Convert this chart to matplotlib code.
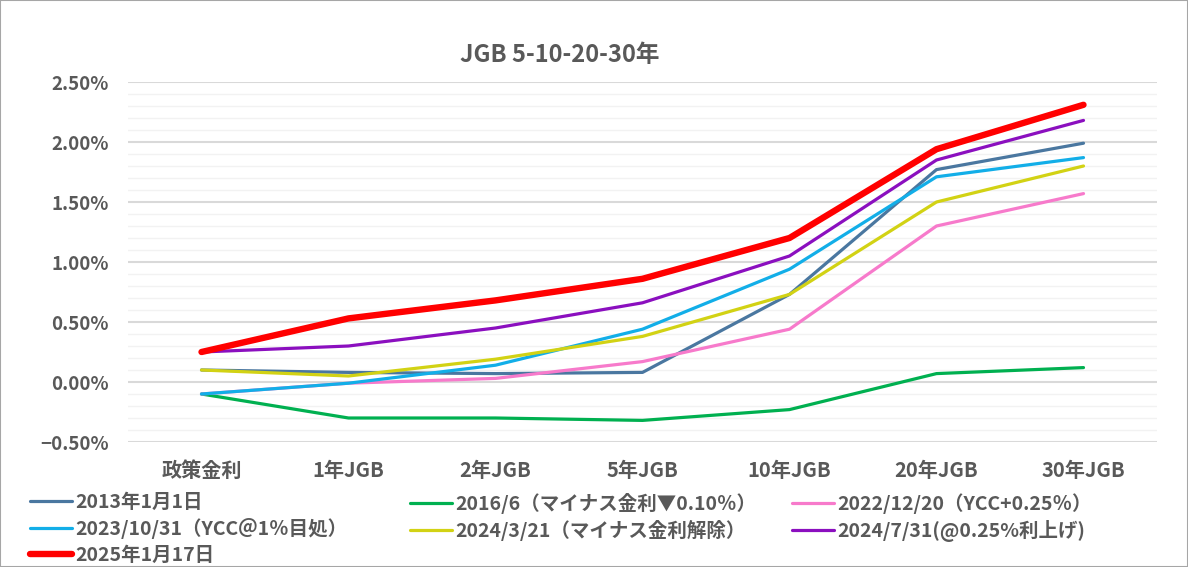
import matplotlib.pyplot as plt
from matplotlib.patches import Rectangle
from matplotlib.ticker import MultipleLocator, PercentFormatter

plt.rcParams['font.family'] = ['Noto Sans CJK JP', 'DejaVu Sans']

# 年限
categories = ['政策金利', '1年JGB', '2年JGB', '5年JGB', '10年JGB', '20年JGB', '30年JGB']

# 各時点の利回り (%)
y2013 = [0.10, 0.08, 0.07, 0.08, 0.73, 1.77, 1.99]
y2016 = [-0.10, -0.30, -0.30, -0.32, -0.23, 0.07, 0.12]
y2022 = [-0.10, -0.01, 0.03, 0.17, 0.44, 1.30, 1.57]
y2023 = [-0.10, -0.01, 0.14, 0.44, 0.94, 1.71, 1.87]
y2024a = [0.10, 0.05, 0.19, 0.38, 0.73, 1.50, 1.80]
y2024b = [0.25, 0.30, 0.45, 0.66, 1.05, 1.85, 2.18]
y2025 = [0.25, 0.53, 0.68, 0.86, 1.20, 1.94, 2.31]

series = [
    ('2013年1月1日', y2013, '#4A77A0', 2.3),
    ('2016/6（マイナス金利▼0.10％）', y2016, '#00B050', 2.3),
    ('2022/12/20（YCC+0.25％）', y2022, '#F77ACB', 2.3),
    ('2023/10/31（YCC＠1％目処）', y2023, '#12AEE8', 2.3),
    ('2024/3/21（マイナス金利解除）', y2024a, '#D2D214', 2.3),
    ('2024/7/31(@0.25%利上げ)', y2024b, '#8B0FBF', 2.3),
    ('2025年1月17日', y2025, '#FF0000', 4.6),
]

fig = plt.figure(figsize=(11.88, 5.67), dpi=100)
ax = fig.add_axes([128 / 1188, 1 - 442 / 567, 1029 / 1188, 360 / 567])

x = list(range(len(categories)))
lines = []
for name, vals, color, lw in series:
    ln, = ax.plot(x, vals, color=color, linewidth=lw, solid_capstyle='round',
                  solid_joinstyle='round', label=name, zorder=3)
    lines.append(ln)

ax.set_xlim(-0.5, len(categories) - 0.5)
ax.set_ylim(-0.5, 2.5)
ax.yaxis.set_major_locator(MultipleLocator(0.5))
ax.yaxis.set_minor_locator(MultipleLocator(0.1))
ax.yaxis.set_major_formatter(PercentFormatter(decimals=2))
ax.grid(which='major', axis='y', color='#D9D9D9', linewidth=1.5, zorder=1)
ax.grid(which='minor', axis='y', color='#F2F2F2', linewidth=1.0, zorder=0)
ax.set_axisbelow(True)
for s in ax.spines.values():
    s.set_visible(False)
ax.tick_params(axis='both', which='both', length=0, colors='#595959')
ax.tick_params(axis='y', pad=14)
ax.tick_params(axis='x', pad=13)
ax.set_xticks(x)
ax.set_xticklabels(categories, fontsize=14.5, fontweight='bold', color='#595959')
for lab in ax.get_yticklabels():
    lab.set_fontsize(13.5)
    lab.set_fontweight('bold')
    lab.set_color('#595959')

fig.text(560 / 1188, 1 - 55 / 567, 'JGB 5-10-20-30年', ha='center', va='center',
         fontsize=17, fontweight='bold', color='#595959')

# 凡例: 3列を個別に配置 (行方向の並び)
cols = [([0, 3, 6], 30), ([1, 4], 410), ([2, 5], 792)]
for idx, left in cols:
    leg = fig.legend([lines[i] for i in idx], [series[i][0] for i in idx],
                     loc='upper left', bbox_to_anchor=(left / 1188, 1 - 493 / 567),
                     frameon=False, handlelength=2.15, handletextpad=0.2,
                     labelspacing=0.32, borderaxespad=0, borderpad=0,
                     prop={'size': 14, 'weight': 'bold'})
    for t in leg.get_texts():
        t.set_color('#595959')

fig.patches.append(Rectangle((0, 0), 1, 1, transform=fig.transFigure, fill=False,
                             edgecolor='#A6A6A6', linewidth=1.5))

fig.savefig('out.png', dpi=100)
